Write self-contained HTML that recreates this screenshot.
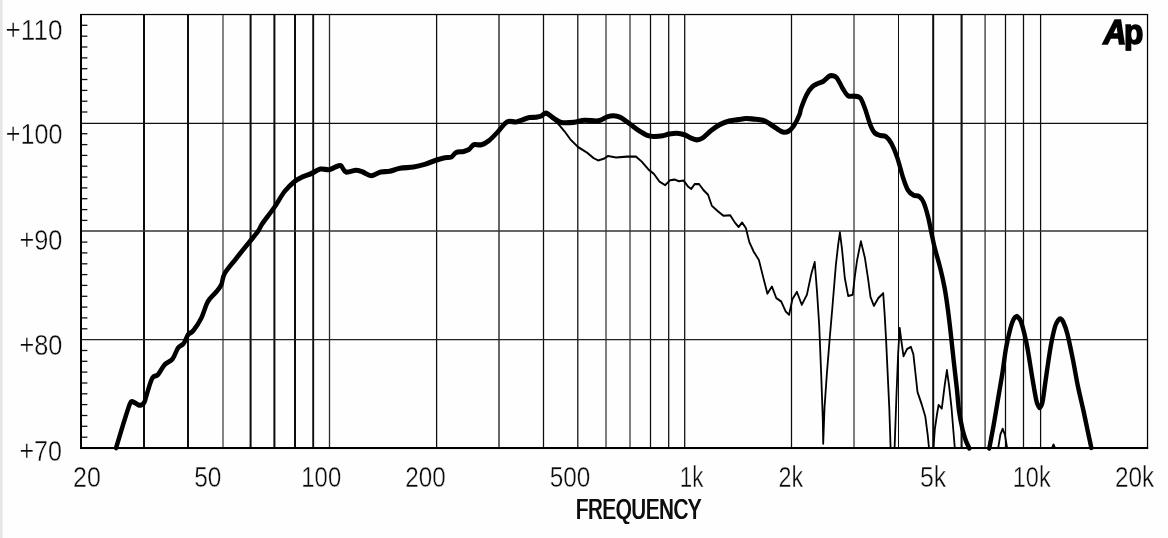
<!DOCTYPE html><html><head><meta charset="utf-8"><title>Frequency response</title>
<style>html,body{margin:0;padding:0;background:#fff}body{width:1168px;height:538px;overflow:hidden}svg{display:block}text{font-family:"Liberation Sans",Arial,sans-serif;fill:#0a0a0a}</style></head><body>
<svg width="1168" height="538" viewBox="0 0 1168 538">
<rect width="1168" height="538" fill="#fefefe"/>
<rect x="0" y="0" width="2.6" height="538" fill="#e6e6e6"/>
<g><line x1="144.0" y1="14.5" x2="144.0" y2="448.0" stroke="#0c0c0c" stroke-width="2.00"/><line x1="188.0" y1="14.5" x2="188.0" y2="448.0" stroke="#0c0c0c" stroke-width="2.00"/><line x1="223.0" y1="14.5" x2="223.0" y2="448.0" stroke="#505050" stroke-width="1.40"/><line x1="250.6" y1="14.5" x2="250.6" y2="448.0" stroke="#0c0c0c" stroke-width="2.00"/><line x1="274.4" y1="14.5" x2="274.4" y2="448.0" stroke="#0c0c0c" stroke-width="2.00"/><line x1="295.0" y1="14.5" x2="295.0" y2="448.0" stroke="#0c0c0c" stroke-width="2.00"/><line x1="313.2" y1="14.5" x2="313.2" y2="448.0" stroke="#0c0c0c" stroke-width="1.90"/><line x1="329.5" y1="14.5" x2="329.5" y2="448.0" stroke="#2a2a2a" stroke-width="1.30"/><line x1="436.6" y1="14.5" x2="436.6" y2="448.0" stroke="#0c0c0c" stroke-width="1.25"/><line x1="499.0" y1="14.5" x2="499.0" y2="448.0" stroke="#0c0c0c" stroke-width="1.25"/><line x1="543.5" y1="14.5" x2="543.5" y2="448.0" stroke="#0c0c0c" stroke-width="1.25"/><line x1="577.8" y1="14.5" x2="577.8" y2="448.0" stroke="#0c0c0c" stroke-width="1.25"/><line x1="606.0" y1="14.5" x2="606.0" y2="448.0" stroke="#333" stroke-width="1.25"/><line x1="630.0" y1="14.5" x2="630.0" y2="448.0" stroke="#333" stroke-width="1.25"/><line x1="650.5" y1="14.5" x2="650.5" y2="448.0" stroke="#0c0c0c" stroke-width="1.25"/><line x1="668.7" y1="14.5" x2="668.7" y2="448.0" stroke="#0c0c0c" stroke-width="1.25"/><line x1="684.7" y1="14.5" x2="684.7" y2="448.0" stroke="#0c0c0c" stroke-width="1.25"/><line x1="791.5" y1="14.5" x2="791.5" y2="448.0" stroke="#0c0c0c" stroke-width="1.25"/><line x1="854.0" y1="14.5" x2="854.0" y2="448.0" stroke="#333" stroke-width="1.25"/><line x1="898.5" y1="14.5" x2="898.5" y2="448.0" stroke="#0c0c0c" stroke-width="1.00"/><line x1="933.2" y1="14.5" x2="933.2" y2="448.0" stroke="#0c0c0c" stroke-width="2.00"/><line x1="961.6" y1="14.5" x2="961.6" y2="448.0" stroke="#111" stroke-width="2.10"/><line x1="985.1" y1="14.5" x2="985.1" y2="448.0" stroke="#505050" stroke-width="1.50"/><line x1="1005.5" y1="14.5" x2="1005.5" y2="448.0" stroke="#0c0c0c" stroke-width="1.25"/><line x1="1023.5" y1="14.5" x2="1023.5" y2="448.0" stroke="#0c0c0c" stroke-width="1.25"/><line x1="1040.6" y1="14.5" x2="1040.6" y2="448.0" stroke="#0c0c0c" stroke-width="1.25"/><line x1="81.0" y1="123.30" x2="1147.5" y2="123.30" stroke="#111" stroke-width="1.30"/><line x1="81.0" y1="231.00" x2="1147.5" y2="231.00" stroke="#333" stroke-width="1.50"/><line x1="81.0" y1="339.65" x2="1147.5" y2="339.65" stroke="#222" stroke-width="1.40"/><line x1="81.0" y1="437.2" x2="87.4" y2="437.2" stroke="#111" stroke-width="1.3"/><line x1="81.0" y1="426.3" x2="87.4" y2="426.3" stroke="#111" stroke-width="1.3"/><line x1="81.0" y1="415.5" x2="87.4" y2="415.5" stroke="#111" stroke-width="1.3"/><line x1="81.0" y1="404.6" x2="87.4" y2="404.6" stroke="#111" stroke-width="1.3"/><line x1="81.0" y1="393.8" x2="87.4" y2="393.8" stroke="#111" stroke-width="1.3"/><line x1="81.0" y1="383.0" x2="87.4" y2="383.0" stroke="#111" stroke-width="1.3"/><line x1="81.0" y1="372.1" x2="87.4" y2="372.1" stroke="#111" stroke-width="1.3"/><line x1="81.0" y1="361.3" x2="87.4" y2="361.3" stroke="#111" stroke-width="1.3"/><line x1="81.0" y1="350.5" x2="87.4" y2="350.5" stroke="#111" stroke-width="1.3"/><line x1="81.0" y1="328.8" x2="87.4" y2="328.8" stroke="#111" stroke-width="1.3"/><line x1="81.0" y1="317.9" x2="87.4" y2="317.9" stroke="#111" stroke-width="1.3"/><line x1="81.0" y1="307.1" x2="87.4" y2="307.1" stroke="#111" stroke-width="1.3"/><line x1="81.0" y1="296.3" x2="87.4" y2="296.3" stroke="#111" stroke-width="1.3"/><line x1="81.0" y1="285.4" x2="87.4" y2="285.4" stroke="#111" stroke-width="1.3"/><line x1="81.0" y1="274.6" x2="87.4" y2="274.6" stroke="#111" stroke-width="1.3"/><line x1="81.0" y1="263.8" x2="87.4" y2="263.8" stroke="#111" stroke-width="1.3"/><line x1="81.0" y1="252.9" x2="87.4" y2="252.9" stroke="#111" stroke-width="1.3"/><line x1="81.0" y1="242.1" x2="87.4" y2="242.1" stroke="#111" stroke-width="1.3"/><line x1="81.0" y1="220.4" x2="87.4" y2="220.4" stroke="#111" stroke-width="1.3"/><line x1="81.0" y1="209.6" x2="87.4" y2="209.6" stroke="#111" stroke-width="1.3"/><line x1="81.0" y1="198.7" x2="87.4" y2="198.7" stroke="#111" stroke-width="1.3"/><line x1="81.0" y1="187.9" x2="87.4" y2="187.9" stroke="#111" stroke-width="1.3"/><line x1="81.0" y1="177.1" x2="87.4" y2="177.1" stroke="#111" stroke-width="1.3"/><line x1="81.0" y1="166.2" x2="87.4" y2="166.2" stroke="#111" stroke-width="1.3"/><line x1="81.0" y1="155.4" x2="87.4" y2="155.4" stroke="#111" stroke-width="1.3"/><line x1="81.0" y1="144.6" x2="87.4" y2="144.6" stroke="#111" stroke-width="1.3"/><line x1="81.0" y1="133.7" x2="87.4" y2="133.7" stroke="#111" stroke-width="1.3"/><line x1="81.0" y1="112.0" x2="87.4" y2="112.0" stroke="#111" stroke-width="1.3"/><line x1="81.0" y1="101.2" x2="87.4" y2="101.2" stroke="#111" stroke-width="1.3"/><line x1="81.0" y1="90.4" x2="87.4" y2="90.4" stroke="#111" stroke-width="1.3"/><line x1="81.0" y1="79.5" x2="87.4" y2="79.5" stroke="#111" stroke-width="1.3"/><line x1="81.0" y1="68.7" x2="87.4" y2="68.7" stroke="#111" stroke-width="1.3"/><line x1="81.0" y1="57.9" x2="87.4" y2="57.9" stroke="#111" stroke-width="1.3"/><line x1="81.0" y1="47.0" x2="87.4" y2="47.0" stroke="#111" stroke-width="1.3"/><line x1="81.0" y1="36.2" x2="87.4" y2="36.2" stroke="#111" stroke-width="1.3"/><line x1="81.0" y1="25.3" x2="87.4" y2="25.3" stroke="#111" stroke-width="1.3"/></g>
<rect x="80" y="14" width="2" height="435" fill="#000"/>
<rect x="80" y="13.9" width="1068.1" height="1.25" fill="#000"/>
<rect x="1146.9" y="14" width="1.25" height="435" fill="#000"/>
<rect x="80" y="447" width="1068.1" height="2.05" fill="#000"/>
<g fill="none" stroke="#000" stroke-linejoin="round" stroke-linecap="butt" transform="scale(1 1.16)">
<path d="M540.00 100.00L546.80 97.84L551.20 101.72L559.00 107.50L564.60 113.28L570.20 120.00L578.00 126.72L587.00 131.55L593.60 136.29L598.10 138.28L603.70 136.90L608.10 134.40L616.00 135.78L627.10 135.00L636.00 135.00L641.60 139.22L648.30 145.95L653.90 149.83L659.50 156.55L665.10 159.66L670.00 155.43L674.50 154.83L679.00 156.21L683.40 155.60L687.90 160.60L691.20 162.93L694.60 158.71L699.10 158.71L703.50 163.88L708.00 167.76L711.80 177.33L718.00 182.16L723.60 186.03L730.30 185.60L734.80 191.81L738.60 195.69L742.10 191.81L745.90 196.64L749.30 208.62L753.50 216.64L758.90 224.14L763.40 239.66L767.40 253.10L771.90 246.98L776.30 256.98L781.20 259.91L785.70 268.53L789.10 271.38L792.40 257.93L796.90 251.64L801.80 262.76L806.90 254.14L811.40 235.86L814.70 225.86L817.00 251.21L819.20 280.17L821.20 322.93L822.80 361.47L823.20 382.59L824.50 351.81L826.80 322.93L829.50 293.97L832.60 262.76L835.90 228.10L838.20 210.78L839.90 200.26L842.00 214.66L844.80 239.66L848.20 255.09L852.70 254.14L854.90 237.76L857.10 224.31L860.90 207.93L864.90 222.33L868.30 241.64L870.50 256.03L873.90 263.71L878.30 256.98L883.20 252.76L884.60 270.43L886.00 291.38L887.50 318.97L889.30 351.81L890.60 386.21" stroke-width="1.8"/>
<path d="M894.60 386.21L896.40 342.24L898.20 303.71L899.70 282.76L901.50 294.83L903.50 307.07L907.10 300.86L910.90 299.05L913.40 305.60L915.60 322.93L917.50 337.93L921.90 349.14L925.30 359.05L927.70 374.91L929.00 386.21" stroke-width="1.8"/>
<path d="M933.50 386.21L934.80 370.09L937.20 356.03L938.60 349.14L941.80 352.24L944.60 332.76L946.90 319.05L949.10 332.76L951.50 351.29L953.30 370.69L954.80 386.21" stroke-width="1.8"/>
<path d="M998.20 386.21L1000.40 374.57L1002.70 369.66L1004.90 374.57L1007.10 386.21" stroke-width="1.8"/>
<path d="M1052.00 386.21L1053.50 383.19L1055.00 386.21" stroke-width="1.8"/>
<path d="M116.10 386.03C117.32 382.57 121.15 371.47 123.40 365.26C125.65 359.05 128.23 351.95 129.60 348.79C130.97 345.63 130.77 346.58 131.60 346.29C132.43 346.01 133.45 346.59 134.60 347.07C135.75 347.54 137.35 348.82 138.50 349.14C139.65 349.45 140.50 349.40 141.50 348.97C142.50 348.53 143.42 348.64 144.50 346.55C145.58 344.47 146.68 339.91 148.00 336.47C149.32 333.02 150.73 328.12 152.40 325.86C154.07 323.61 155.95 324.86 158.00 322.93C160.05 321.01 162.28 316.55 164.70 314.31C167.12 312.07 170.27 311.88 172.50 309.48C174.73 307.08 176.23 302.16 178.10 299.91C179.97 297.67 182.02 297.96 183.70 296.03C185.38 294.11 186.58 290.22 188.20 288.36C189.82 286.51 191.23 287.26 193.40 284.91C195.57 282.57 198.78 278.48 201.20 274.31C203.62 270.14 205.48 263.61 207.90 259.91C210.32 256.22 213.47 254.57 215.70 252.16C217.93 249.74 219.82 248.15 221.30 245.43C222.78 242.72 222.18 239.55 224.60 235.86C227.02 232.17 231.70 227.77 235.80 223.28C239.90 218.78 245.48 212.87 249.20 208.88C252.92 204.89 255.92 201.98 258.10 199.31C260.28 196.64 259.55 196.32 262.30 192.84C265.05 189.37 270.88 183.09 274.60 178.45C278.32 173.81 281.25 168.69 284.60 165.00C287.95 161.31 291.72 158.38 294.70 156.29C297.68 154.21 299.72 153.62 302.50 152.50C305.28 151.38 308.43 150.69 311.40 149.57C314.37 148.45 317.32 146.32 320.30 145.78C323.28 145.23 326.68 146.62 329.30 146.29C331.92 145.96 334.07 144.37 336.00 143.79C337.93 143.22 339.23 142.10 340.90 142.84C342.57 143.59 343.48 147.63 346.00 148.28C348.52 148.92 353.22 146.72 356.00 146.72C358.78 146.72 360.17 147.49 362.70 148.28C365.23 149.07 368.22 151.47 371.20 151.47C374.18 151.47 377.55 148.91 380.60 148.28C383.65 147.64 386.27 148.20 389.50 147.67C392.73 147.14 396.00 145.70 400.00 145.09C404.00 144.47 409.40 144.53 413.50 143.97C417.60 143.41 420.88 142.69 424.60 141.72C428.32 140.76 432.45 139.15 435.80 138.19C439.15 137.23 442.10 136.42 444.70 135.95C447.30 135.47 449.53 136.09 451.40 135.34C453.27 134.60 453.85 132.27 455.90 131.47C457.95 130.66 461.47 130.99 463.70 130.52C465.93 130.04 467.63 129.58 469.30 128.62C470.97 127.66 471.67 125.39 473.70 124.74C475.73 124.09 478.90 125.37 481.50 124.74C484.10 124.11 486.50 122.87 489.30 120.95C492.10 119.02 495.68 115.60 498.30 113.19C500.92 110.78 503.15 107.90 505.00 106.47C506.85 105.03 507.55 104.78 509.40 104.57C511.25 104.35 513.87 105.40 516.10 105.17C518.33 104.94 520.57 103.82 522.80 103.19C525.03 102.56 527.30 101.74 529.50 101.38C531.70 101.02 534.08 101.24 536.00 101.03C537.92 100.83 539.30 100.76 541.00 100.17C542.70 99.58 544.12 97.24 546.20 97.50C548.28 97.76 550.98 100.39 553.50 101.72C556.02 103.06 557.95 104.89 561.30 105.52C564.65 106.15 569.70 105.83 573.60 105.52C577.50 105.20 580.62 103.84 584.70 103.62C588.78 103.41 594.38 104.70 598.10 104.22C601.82 103.75 604.40 101.52 607.00 100.78C609.60 100.03 611.47 99.68 613.70 99.74C615.93 99.80 617.78 99.99 620.40 101.12C623.02 102.26 626.42 104.68 629.40 106.55C632.38 108.42 635.33 110.63 638.30 112.33C641.27 114.02 644.60 115.83 647.20 116.72C649.80 117.61 651.30 117.61 653.90 117.67C656.50 117.73 660.30 117.41 662.80 117.07C665.30 116.72 666.58 115.98 668.90 115.60C671.22 115.23 674.10 114.73 676.70 114.83C679.30 114.93 682.08 115.50 684.50 116.21C686.92 116.91 689.15 118.32 691.20 119.05C693.25 119.78 694.93 120.60 696.80 120.60C698.67 120.60 699.98 120.43 702.40 119.05C704.82 117.67 708.32 114.31 711.30 112.33C714.28 110.34 717.32 108.51 720.30 107.16C723.28 105.80 726.23 104.90 729.20 104.22C732.17 103.55 735.32 103.45 738.10 103.10C740.88 102.76 743.30 102.23 745.90 102.16C748.50 102.08 750.90 102.41 753.70 102.67C756.50 102.93 760.08 103.06 762.70 103.71C765.32 104.35 767.18 105.43 769.40 106.55C771.62 107.67 773.78 109.24 776.00 110.43C778.22 111.62 780.65 113.23 782.70 113.71C784.75 114.18 786.43 114.15 788.30 113.28C790.17 112.40 792.03 110.85 793.90 108.45C795.77 106.05 798.28 101.44 799.50 98.88C800.72 96.32 800.00 95.99 801.20 93.10C802.40 90.22 804.85 84.60 806.70 81.55C808.55 78.51 810.43 76.42 812.30 74.83C814.17 73.23 816.03 72.79 817.90 71.98C819.77 71.18 821.65 71.03 823.50 70.00C825.35 68.97 827.52 66.57 829.00 65.78C830.48 64.99 831.08 65.03 832.40 65.26C833.72 65.49 835.23 65.40 836.90 67.16C838.57 68.91 840.55 73.22 842.40 75.78C844.25 78.33 845.95 81.31 848.00 82.50C850.05 83.69 852.65 82.60 854.70 82.93C856.75 83.26 858.62 82.79 860.30 84.48C861.98 86.18 863.13 89.25 864.80 93.10C866.47 96.95 868.63 103.99 870.30 107.59C871.97 111.18 873.12 113.12 874.80 114.66C876.48 116.19 878.53 116.29 880.40 116.81C882.27 117.33 884.15 116.58 886.00 117.76C887.85 118.94 889.65 120.93 891.50 123.88C893.35 126.82 895.10 130.36 897.10 135.43C899.10 140.50 901.68 149.55 903.50 154.31C905.32 159.07 906.32 161.62 908.00 163.97C909.68 166.31 911.75 167.47 913.60 168.36C915.45 169.25 917.43 168.29 919.10 169.31C920.77 170.33 922.10 171.54 923.60 174.48C925.10 177.43 926.80 182.64 928.10 186.98C929.40 191.32 930.28 196.02 931.40 200.52C932.52 205.01 933.33 208.89 934.80 213.97C936.27 219.04 938.57 225.24 940.20 230.95C941.83 236.65 943.30 242.10 944.60 248.19C945.90 254.28 946.95 260.76 948.00 267.50C949.05 274.24 949.97 281.48 950.90 288.62C951.83 295.76 952.60 302.54 953.60 310.34C954.60 318.15 955.98 328.05 956.90 335.43C957.82 342.82 958.17 348.88 959.10 354.66C960.03 360.43 961.38 365.92 962.50 370.09C963.62 374.25 964.68 376.94 965.80 379.66C966.92 382.37 968.63 385.26 969.20 386.38" stroke-width="4.4" stroke-linecap="round"/>
<path d="M989.30 386.38C990.03 383.02 992.22 373.42 993.70 366.21C995.18 358.99 996.70 350.80 998.20 343.10C999.70 335.40 1001.40 327.16 1002.70 320.00C1004.00 312.84 1004.70 306.38 1006.00 300.17C1007.30 293.97 1009.23 286.93 1010.50 282.76C1011.77 278.59 1012.60 276.84 1013.60 275.17C1014.60 273.51 1015.60 272.90 1016.50 272.76C1017.40 272.61 1018.22 273.48 1019.00 274.31C1019.78 275.14 1020.30 275.52 1021.20 277.76C1022.10 280.00 1023.30 283.76 1024.40 287.76C1025.50 291.75 1026.42 295.04 1027.80 301.72C1029.18 308.41 1031.28 320.60 1032.70 327.84C1034.12 335.09 1035.33 341.44 1036.30 345.17C1037.27 348.91 1037.92 349.21 1038.50 350.26C1039.08 351.31 1039.37 351.51 1039.80 351.47C1040.23 351.42 1040.60 351.02 1041.10 350.00C1041.60 348.98 1041.97 349.51 1042.80 345.34C1043.63 341.18 1044.80 332.70 1046.10 325.00C1047.40 317.30 1049.12 306.35 1050.60 299.14C1052.08 291.93 1053.70 285.60 1055.00 281.72C1056.30 277.84 1057.47 277.01 1058.40 275.86C1059.33 274.71 1059.80 274.57 1060.60 274.83C1061.40 275.09 1062.07 275.23 1063.20 277.41C1064.33 279.60 1065.78 282.51 1067.40 287.93C1069.02 293.35 1071.15 302.41 1072.90 309.91C1074.65 317.41 1076.17 325.68 1077.90 332.93C1079.63 340.19 1081.67 347.03 1083.30 353.45C1084.93 359.87 1086.37 366.06 1087.70 371.47C1089.03 376.87 1090.70 383.46 1091.30 385.86" stroke-width="4.4" stroke-linecap="round"/>
</g>
<filter id="id" x="0" y="0" width="1168" height="538" filterUnits="userSpaceOnUse"><feOffset dx="0" dy="0"/></filter><g filter="url(#id)">
<text x="5.6" y="39.5" font-size="29.6" textLength="56.8" lengthAdjust="spacingAndGlyphs" stroke="#fefefe" stroke-width="0.4">+110</text>
<text x="5.8" y="144.4" font-size="29.6" textLength="56.6" lengthAdjust="spacingAndGlyphs" stroke="#fefefe" stroke-width="0.4">+100</text>
<text x="19.4" y="250.1" font-size="29.6" textLength="43.0" lengthAdjust="spacingAndGlyphs" stroke="#fefefe" stroke-width="0.4">+90</text>
<text x="19.4" y="355.2" font-size="29.6" textLength="43.0" lengthAdjust="spacingAndGlyphs" stroke="#fefefe" stroke-width="0.4">+80</text>
<text x="19.4" y="461.1" font-size="29.6" textLength="42.6" lengthAdjust="spacingAndGlyphs" stroke="#fefefe" stroke-width="0.4">+70</text>
<text x="73.0" y="487.1" font-size="29.6" textLength="27.8" lengthAdjust="spacingAndGlyphs" stroke="#fefefe" stroke-width="0.4">20</text>
<text x="194.2" y="487.1" font-size="29.6" textLength="27.2" lengthAdjust="spacingAndGlyphs" stroke="#fefefe" stroke-width="0.4">50</text>
<text x="301.3" y="487.1" font-size="29.6" textLength="39.9" lengthAdjust="spacingAndGlyphs" stroke="#fefefe" stroke-width="0.4">100</text>
<text x="405.3" y="487.1" font-size="29.6" textLength="40.4" lengthAdjust="spacingAndGlyphs" stroke="#fefefe" stroke-width="0.4">200</text>
<text x="549.8" y="487.1" font-size="29.6" textLength="40.6" lengthAdjust="spacingAndGlyphs" stroke="#fefefe" stroke-width="0.4">500</text>
<text x="679.8" y="487.1" font-size="29.6" textLength="23.6" lengthAdjust="spacingAndGlyphs" stroke="#fefefe" stroke-width="0.4">1k</text>
<text x="778.6" y="487.1" font-size="29.6" textLength="24.6" lengthAdjust="spacingAndGlyphs" stroke="#fefefe" stroke-width="0.4">2k</text>
<text x="920.0" y="487.1" font-size="29.6" textLength="26.2" lengthAdjust="spacingAndGlyphs" stroke="#fefefe" stroke-width="0.4">5k</text>
<text x="1012.8" y="487.1" font-size="29.6" textLength="37.9" lengthAdjust="spacingAndGlyphs" stroke="#fefefe" stroke-width="0.4">10k</text>
<text x="1115.0" y="487.1" font-size="29.6" textLength="39.2" lengthAdjust="spacingAndGlyphs" stroke="#fefefe" stroke-width="0.4">20k</text>
</g>
<filter id="bx" x="-5%" y="-20%" width="110%" height="140%"><feOffset dx="1.1" dy="0" result="o"/><feMerge><feMergeNode in="SourceGraphic"/><feMergeNode in="o"/></feMerge></filter>
<text x="575.5" y="518.8" font-size="29.0" textLength="125.4" lengthAdjust="spacingAndGlyphs" filter="url(#bx)">FREQUENCY</text>
<clipPath id="pc"><rect x="1090" y="10" width="60" height="40.8"/></clipPath>
<g filter="url(#id)"><g clip-path="url(#pc)"><text y="43.7" font-weight="bold" stroke="#000" stroke-linejoin="miter" style="fill:#000;paint-order:stroke"><tspan x="1103.4" font-size="34.2" font-style="italic" stroke-width="1.7" textLength="22.9" lengthAdjust="spacingAndGlyphs">A</tspan><tspan x="1124.1" font-size="35.6" stroke-width="1.7" textLength="19.35" lengthAdjust="spacingAndGlyphs">p</tspan></text></g></g>
</svg></body></html>
